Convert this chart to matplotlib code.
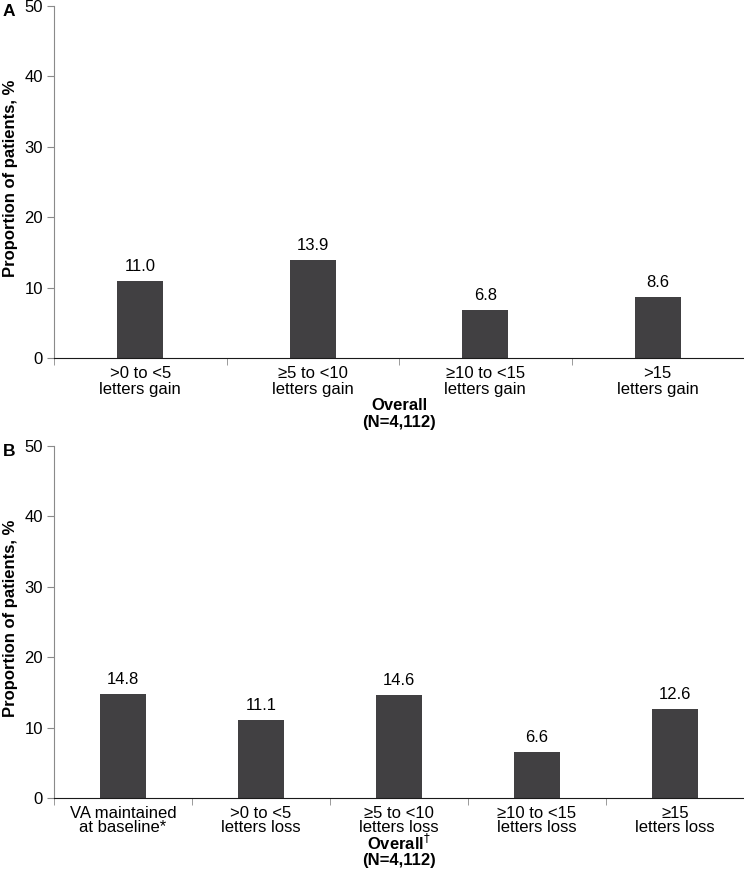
import matplotlib

matplotlib.use("Agg")
import matplotlib.pyplot as plt
import numpy as np

plt.rcParams["font.family"] = ["Liberation Sans", "DejaVu Sans"]

# Panel A: letters gained
gain_labels = [">0 to <5\nletters gain", "≥5 to <10\nletters gain",
               "≥10 to <15\nletters gain", ">15\nletters gain"]
gain_values = [11.0, 13.9, 6.8, 8.6]

# Panel B: letters lost / maintained
loss_labels = ["VA maintained\nat baseline*", ">0 to <5\nletters loss",
               "≥5 to <10\nletters loss", "≥10 to <15\nletters loss",
               "≥15\nletters loss"]
loss_values = [14.8, 11.1, 14.6, 6.6, 12.6]

y_ticks = [0, 10, 20, 30, 40, 50]

BAR_COLOR = "#414042"
SPINE_GRAY = "#8a8a8a"
BAR_PX = 46  # bar width in pixels, same in both panels
FS = 12

W, H = 744, 872
fig = plt.figure(figsize=(W / 100, H / 100), dpi=100)
# axes boxes in pixels: left, zero line, top
ax_a = fig.add_axes([54 / W, 1 - 358 / H, 1 - 54 / W, 352 / H])
ax_b = fig.add_axes([54 / W, 1 - 798 / H, 1 - 54 / W, 352 / H])


def draw_panel(ax, labels, values, letter, footer, lsp, tpad, foot_off):
    n = len(labels)
    x = np.arange(n)
    ax_px = ax.get_position().width * W
    width = BAR_PX / (ax_px / n)
    ax.bar(x, values, width=width, color=BAR_COLOR, zorder=2)
    for xi, v in zip(x, values):
        ax.annotate(f"{v:.1f}", xy=(xi, v), xytext=(0, 10), textcoords="offset pixels",
                    ha="center", va="baseline", fontsize=FS)

    ax.set_xlim(-0.5, n - 0.5)
    ax.set_ylim(0, 50)
    ax.set_yticks(y_ticks)
    ax.tick_params(axis="y", labelsize=FS, length=5, color=SPINE_GRAY, pad=3)

    ax.set_xticks(x)
    ax.set_xticklabels(labels, fontsize=FS, linespacing=lsp)
    ax.tick_params(axis="x", which="major", length=0, pad=tpad)
    ax.set_xticks(np.arange(n + 1) - 0.5, minor=True)
    ax.tick_params(axis="x", which="minor", length=5, color=SPINE_GRAY)

    for side in ["top", "right"]:
        ax.spines[side].set_visible(False)
    ax.spines["left"].set_color(SPINE_GRAY)
    ax.spines["bottom"].set_color("#1a1a1a")
    ax.spines["bottom"].set_clip_on(False)

    ax.set_ylabel("Proportion of patients, %", fontsize=12, fontweight="bold")
    ax.yaxis.set_label_coords(-36 / ax_px, 0.51)

    ax.annotate(letter, xy=(0, 1), xycoords="axes fraction", xytext=(-45, -10),
                textcoords="offset pixels", ha="center", va="baseline",
                fontsize=12.5, fontweight="bold")
    for line, off in zip(footer, foot_off):
        ax.annotate(line, xy=(0.5, 0), xycoords="axes fraction", xytext=(0, off),
                    textcoords="offset pixels", ha="center", va="baseline",
                    fontsize=FS, fontweight="bold")


draw_panel(ax_a, gain_labels, gain_values, "A", ["Overall", "(N=4,112)"],
           1.02, 6.0, [-52, -69])
draw_panel(ax_b, loss_labels, loss_values, "B", ["Overall$^{\\dagger}$", "(N=4,112)"],
           0.94, 5.5, [-52, -67])

fig.savefig("out.png", dpi=100, facecolor="white")
